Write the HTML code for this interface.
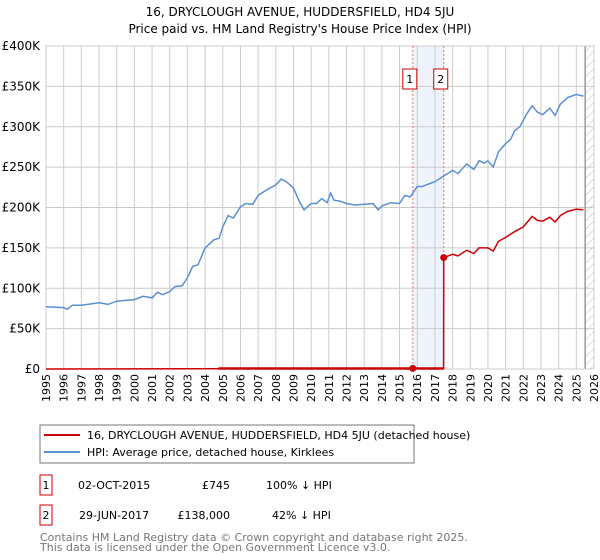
<!DOCTYPE html>
<html><head><meta charset="utf-8"><style>
body{margin:0;background:#fff;font-family:"Liberation Sans","DejaVu Sans",sans-serif;}
#wrap{position:relative;width:600px;height:560px;overflow:hidden;}
</style></head><body><div id="wrap">
<svg id="svg" width="600" height="560" font-family="DejaVu Sans, Liberation Sans, sans-serif">
<text x="300" y="16" text-anchor="middle" font-size="12">16, DRYCLOUGH AVENUE, HUDDERSFIELD, HD4 5JU</text>
<text x="300" y="33" text-anchor="middle" font-size="12">Price paid vs. HM Land Registry's House Price Index (HPI)</text>
<g id="plot"></g>
<rect x="40" y="425" width="374" height="38" fill="#fff" stroke="#777"/>
<line x1="44" y1="435" x2="80" y2="435" stroke="#cc0000" stroke-width="2"/>
<text x="87" y="439" font-size="11">16, DRYCLOUGH AVENUE, HUDDERSFIELD, HD4 5JU (detached house)</text>
<line x1="44" y1="452" x2="80" y2="452" stroke="#5b8fd3" stroke-width="2"/>
<text x="87" y="456" font-size="11">HPI: Average price, detached house, Kirklees</text>
<g font-size="11">
<rect x="40" y="475" width="12" height="20" fill="none" stroke="#cc0000"/>
<text x="46" y="489" text-anchor="middle">1</text>
<text x="78" y="489">02-OCT-2015</text>
<text x="230" y="489" text-anchor="end">£745</text>
<text x="266" y="489">100% ↓ HPI</text>
<rect x="40" y="505" width="12" height="20" fill="none" stroke="#cc0000"/>
<text x="46" y="519" text-anchor="middle">2</text>
<text x="79" y="519">29-JUN-2017</text>
<text x="230" y="519" text-anchor="end">£138,000</text>
<text x="272" y="519">42% ↓ HPI</text>
</g>
<text x="40" y="541" font-size="11" fill="#777">Contains HM Land Registry data © Crown copyright and database right 2025.</text>
<text x="40" y="551" font-size="11" fill="#777">This data is licensed under the Open Government Licence v3.0.</text>
</svg></div>
<script>
const yearTicks=[1995,1996,1997,1998,1999,2000,2001,2002,2003,2004,2005,2006,2007,2008,2009,2010,2011,2012,2013,2014,2015,2016,2017,2018,2019,2020,2021,2022,2023,2024,2025,2026];
const priceTicks=[0,50000,100000,150000,200000,250000,300000,350000,400000];
const priceTickLabels=["£0","£50K","£100K","£150K","£200K","£250K","£300K","£350K","£400K"];
const hpiDates=[1995,1996,1996.2,1996.5,1997,1998,1998.5,1999,2000,2000.5,2001,2001.3,2001.6,2002,2002.3,2002.7,2003,2003.3,2003.6,2004,2004.5,2004.8,2005,2005.3,2005.6,2006,2006.3,2006.7,2007,2007.5,2008,2008.3,2008.6,2009,2009.3,2009.6,2010,2010.3,2010.6,2010.9,2011.1,2011.3,2011.6,2012,2012.5,2013,2013.5,2013.8,2014,2014.5,2015,2015.3,2015.6,2016,2016.3,2016.5,2017,2017.5,2018,2018.3,2018.8,2019.2,2019.5,2019.8,2020,2020.3,2020.6,2021,2021.3,2021.5,2021.8,2022.2,2022.5,2022.8,2023.1,2023.5,2023.8,2024.1,2024.5,2025,2025.4];
const hpiValues=[77,76,74,79,79,82,80,84,86,90,88,95,92,96,102,103,113,127,129,150,160,162,176,190,187,201,205,204,215,222,228,235,232,224,209,197,205,205,211,206,218,209,208,205,203,204,205,197,202,206,205,215,213,226,226,228,232,239,246,242,254,247,258,255,258,250,269,279,285,295,300,316,326,318,315,323,314,328,336,340,338];
const propDates=[1995,2015.75,2017.49,2017.5,2018,2018.3,2018.8,2019.2,2019.5,2020,2020.3,2020.6,2021,2021.5,2022,2022.5,2022.8,2023.1,2023.5,2023.8,2024.1,2024.5,2025,2025.4];
const propValues=[0,0.745,0.745,138,142,140,147,143,150,150,146,158,163,170,176,189,184,183,188,182,190,195,198,197];
const saleDates=[2015.75,2017.5];
const saleValues=[745,138000];
const ns="http://www.w3.org/2000/svg";
const X0=46,X1=594,Y0=369,Y1=46;
const xs=t=>X0+(t-1995)/31*(X1-X0);
const ys=v=>Y0-v/400000*(Y0-Y1);
const g=document.getElementById('plot');
function mk(tag,at,parent){const e=document.createElementNS(ns,tag);for(const k in at)e.setAttribute(k,at[k]);(parent||g).appendChild(e);return e;}
// shaded region
let sh=mk('rect',{x:xs(saleDates[0]),y:Y1,width:xs(saleDates[1])-xs(saleDates[0]),height:Y0-Y1,fill:'#eef3fc'});


// grid
yearTicks.forEach(t=>{const l=mk('line',{x1:xs(t),x2:xs(t),y1:Y1,y2:Y0,stroke:'#ccc','stroke-width':1});


const tx=mk('text',{transform:`translate(${xs(t)+4},${Y0+5}) rotate(-90)`,'text-anchor':'end','font-size':11});tx.textContent=t;

});
priceTicks.forEach((v,i)=>{const l=mk('line',{x1:X0,x2:X1,y1:ys(v),y2:ys(v),stroke:'#ccc','stroke-width':1});


const tx=mk('text',{x:X0-6,y:ys(v)+4,'text-anchor':'end','font-size':12});tx.textContent=priceTickLabels[i];

});
// hatch after data end
const hx=xs(2025.5);
const pat=mk('pattern',{id:'hatch',width:6,height:6,patternUnits:'userSpaceOnUse',patternTransform:'rotate(45)'});
mk('line',{x1:0,y1:0,x2:0,y2:6,stroke:'#bbb','stroke-width':1},pat);
const hr=mk('rect',{x:hx,y:Y1,width:X1-hx,height:Y0-Y1,fill:'url(#hatch)'});


const hl=mk('line',{x1:hx,x2:hx,y1:Y1,y2:Y0,stroke:'#999','stroke-width':1.5});


mk('rect',{x:X0,y:Y1,width:X1-X0,height:Y0-Y1,fill:'none',stroke:'#ccc'});
// sale vertical lines
saleDates.forEach((d,i)=>{const l=mk('line',{x1:xs(d),x2:xs(d),y1:Y1,y2:Y0,stroke:'#f07070','stroke-dasharray':'2,2','stroke-width':1});


const bx=xs(d)-(i==0?10:10);
const b=mk('rect',{x:bx,y:69,width:14,height:20,fill:'#fff',stroke:'#cc0000'});


const tx=mk('text',{x:bx+7,y:83,'text-anchor':'middle','font-size':11});tx.textContent=String(i+1);

});
// HPI line
const hp=mk('path',{d:hpiDates.map((t,i)=>(i?'L':'M')+xs(t).toFixed(1)+','+ys(hpiValues[i]*1000).toFixed(1)).join(''),fill:'none',stroke:'#5b8fd3','stroke-width':1.5});


// property line
const pp=mk('path',{d:propDates.map((t,i)=>(i?'L':'M')+xs(t).toFixed(1)+','+ys(propValues[i]*1000).toFixed(1)).join(''),fill:'none',stroke:'#cc0000','stroke-width':1.5});


const thick=mk('line',{x1:xs(2004.75),x2:xs(saleDates[1]),y1:ys(0)-0.5,y2:ys(0)-0.5,stroke:'#cc0000','stroke-width':2.5});


saleDates.forEach((d,i)=>{const c=mk('circle',{cx:xs(d),cy:ys(saleValues[i]),r:3.5,fill:'#cc0000'});

});
</script></body></html>
